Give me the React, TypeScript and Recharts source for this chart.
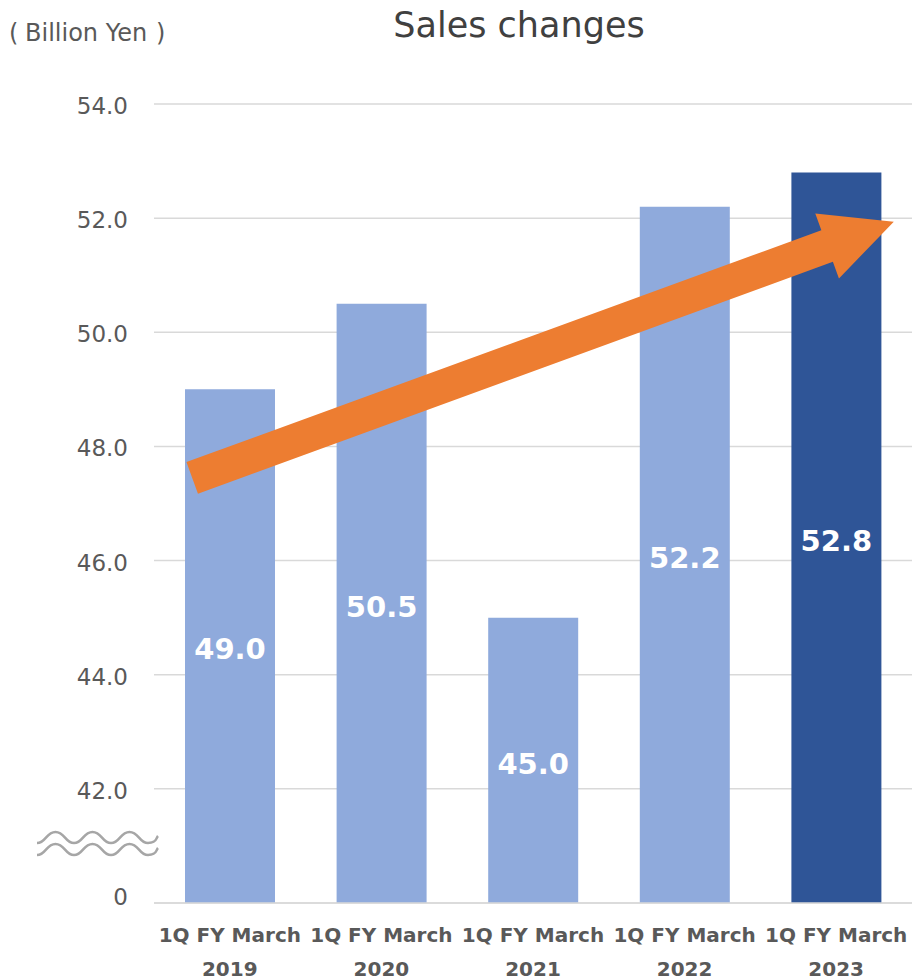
import { Bar, BarChart, CartesianGrid, Cell, LabelList, ReferenceLine, XAxis, YAxis } from 'recharts';

// data
const periods = ['2019', '2020', '2021', '2022', '2023'];
const sales = [49.0, 50.5, 45.0, 52.2, 52.8];
const yTicks = [40, 42, 44, 46, 48, 50, 52, 54];
// trend arrow, read at the first and last category centres
const arrowFrom = 47.69;
const arrowTo = 51.57;

const LIGHT = '#8FAADC';
const DARK = '#2F5597';
const ORANGE = '#ED7D31';
const GRID = '#D9D9D9';
const TEXT = '#595959';
const FONT = '"DejaVu Sans", Verdana, sans-serif';

const data = periods.map((p, i) => ({ name: p, value: sales[i] }));

const YTick = ({ x, y, payload }: any) => (
  <text
    x={x}
    y={payload.value === 40 ? y - 6 : y + 2}
    textAnchor="end"
    dominantBaseline="central"
    fill={TEXT}
    fontSize={23}
    fontFamily={FONT}
  >
    {payload.value === 40 ? '0' : payload.value.toFixed(1)}
  </text>
);

const XTick = ({ x, y, payload }: any) => (
  <text textAnchor="middle" fill={TEXT} fontSize={20} fontWeight="bold" fontFamily={FONT}>
    <tspan x={x} y={y + 31}>1Q FY March</tspan>
    <tspan x={x} y={y + 65}>{payload.value}</tspan>
  </text>
);

// arrow drawn along the reference segment, extended a bit past both ends
const Arrow = ({ x1, y1, x2, y2 }: any) => {
  const dx = x2 - x1;
  const dy = y2 - y1;
  const sx = x1 + dx * -0.062;
  const sy = y1 + dy * -0.062;
  const tx = x1 + dx * 1.095;
  const ty = y1 + dy * 1.095;
  const len = Math.hypot(tx - sx, ty - sy);
  const ux = (tx - sx) / len;
  const uy = (ty - sy) / len;
  const nx = -uy;
  const ny = ux;
  const hw = 16.8;
  const HW = 34.5;
  const HL = 71;
  const bx = tx - ux * HL;
  const by = ty - uy * HL;
  const pts = [
    [sx + nx * hw, sy + ny * hw],
    [bx + nx * hw, by + ny * hw],
    [bx + nx * HW, by + ny * HW],
    [tx, ty],
    [bx - nx * HW, by - ny * HW],
    [bx - nx * hw, by - ny * hw],
    [sx - nx * hw, sy - ny * hw],
  ];
  return <polygon points={pts.map(p => p.join(',')).join(' ')} fill={ORANGE} />;
};

export default function App() {
  return (
    <div style={{ position: 'absolute', left: 0, top: 0, width: 912, height: 980, overflow: 'hidden', background: '#fff' }}>
      <BarChart
        width={912}
        height={980}
        data={data}
        margin={{ top: 104, right: 0, bottom: 0, left: 0 }}
        barCategoryGap={0}
      >
        <CartesianGrid vertical={false} stroke={GRID} strokeWidth={1.5} />
        <XAxis
          dataKey="name"
          height={77}
          tickLine={false}
          axisLine={{ stroke: GRID, strokeWidth: 1.5 }}
          tickMargin={2}
          interval={0}
          tick={<XTick />}
        />
        <YAxis
          type="number"
          domain={[40, 54]}
          ticks={yTicks}
          width={154}
          tickLine={false}
          axisLine={false}
          tickMargin={20}
          tick={<YTick />}
        />
        <Bar dataKey="value" barSize={90} isAnimationActive={false}>
          {data.map((d, i) => (
            <Cell key={d.name} fill={i === data.length - 1 ? DARK : LIGHT} />
          ))}
          <LabelList
            dataKey="value"
            position="center"
            formatter={(v: any) => Number(v).toFixed(1)}
            fill="#fff"
            fontSize={29}
            fontWeight="bold"
            fontFamily={FONT}
            dy={3}
          />
        </Bar>
        <ReferenceLine
          segment={[
            { x: periods[0], y: arrowFrom },
            { x: periods[periods.length - 1], y: arrowTo },
          ]}
          shape={<Arrow />}
        />
      </BarChart>
      <svg
        width={912}
        height={980}
        style={{ position: 'absolute', left: 0, top: 0, pointerEvents: 'none' }}
      >
        <text x={519} y={37} textAnchor="middle" fill="#404040" fontSize={35} fontFamily={FONT}>
          Sales changes
        </text>
        <text y={41} fill={TEXT} fontSize={24} fontFamily={FONT}>
          <tspan x={9}>(</tspan>
          <tspan x={25}>Billion Yen</tspan>
          <tspan x={156}>)</tspan>
        </text>
        <g fill="none" stroke="#A6A6A6" strokeWidth={2.5}>
          <path d="M37 843 C46 843 46 832 55.5 832 S65 843 74 843 S83 832 92.5 832 S102 843 111 843 S120 832 129.5 832 S139 843 148 843 S156 838 158 836" />
          <path d="M37 855 C46 855 46 844 55.5 844 S65 855 74 855 S83 844 92.5 844 S102 855 111 855 S120 844 129.5 844 S139 855 148 855 S156 850 158 848" />
        </g>
      </svg>
    </div>
  );
}
